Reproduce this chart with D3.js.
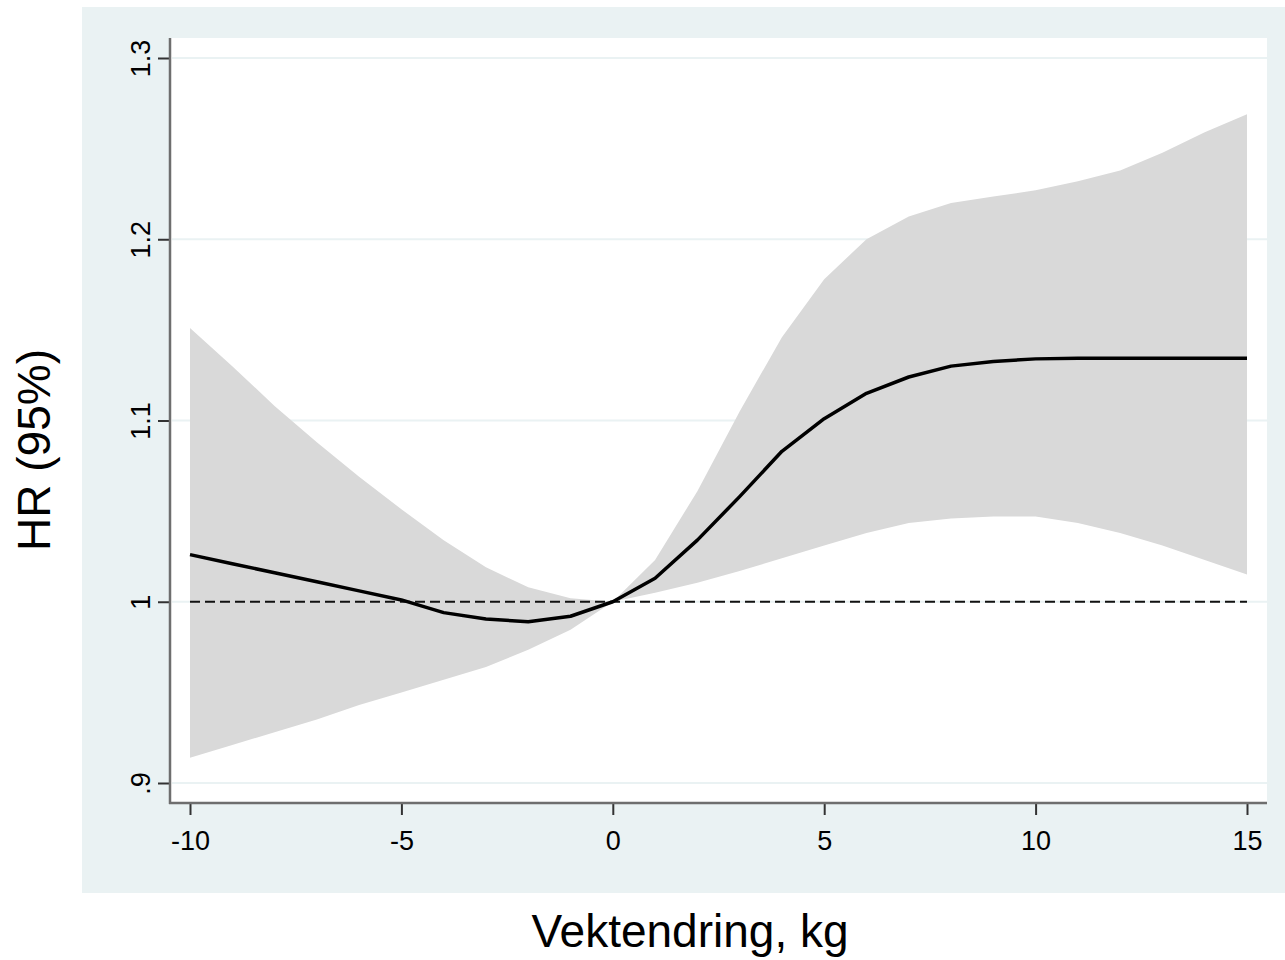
<!DOCTYPE html>
<html>
<head>
<meta charset="utf-8">
<script src="https://cdn.jsdelivr.net/npm/d3@7"></script>
<style>
  body { margin: 0; background: #fff; }
  text { font-family: "Liberation Sans", Arial, sans-serif; fill: #000; }
</style>
</head>
<body>
<div id="chart"></div>
<script>
var svgW = 1285;
var svgH = 960;

// weight change (kg)
var kg = [-10, -9, -8, -7, -6, -5, -4, -3, -2, -1, 0, 1, 2, 3, 4, 5, 6, 7, 8, 9, 10, 11, 12, 13, 14, 15];
// hazard ratio estimate
var hr = [1.026, 1.021, 1.016, 1.011, 1.006, 1.001, 0.994, 0.9905, 0.989, 0.992, 1.0,
          1.013, 1.034, 1.058, 1.083, 1.101, 1.115, 1.124, 1.130, 1.1326, 1.134,
          1.1344, 1.1344, 1.1344, 1.1344, 1.1344];
// 95% CI
var upper = [1.151, 1.130, 1.108, 1.088, 1.069, 1.051, 1.034, 1.019, 1.008, 1.002, 1.0,
             1.023, 1.061, 1.105, 1.146, 1.178, 1.200, 1.2126, 1.220, 1.2236, 1.227,
             1.232, 1.238, 1.2477, 1.259, 1.269];
var lower = [0.914, 0.921, 0.928, 0.935, 0.943, 0.950, 0.957, 0.964, 0.9735, 0.9845, 1.0,
             1.005, 1.0105, 1.017, 1.024, 1.031, 1.038, 1.0435, 1.046, 1.047, 1.047,
             1.0435, 1.038, 1.031, 1.023, 1.015];

var xTicks = [-10, -5, 0, 5, 10, 15];
var xTickLabels = ["-10", "-5", "0", "5", "10", "15"];
var yTicks = [0.9, 1.0, 1.1, 1.2, 1.3];
var yTickLabels = [".9", "1", "1.1", "1.2", "1.3"];

var refLine = 1;

var data = kg.map((k, i) => ({kg: k, hr: hr[i], lo: lower[i], hi: upper[i]}));

var svg = d3.select("#chart")
            .append("svg")
            .attr("width", svgW)
            .attr("height", svgH);

// plot region box
var plot = {left: 170, right: 1267, top: 38, bottom: 803};

var xScale = d3.scaleLinear().domain([-10, 15]).range([190, 1247]);
var yScale = d3.scaleLinear().domain([0.9, 1.3]).range([783, 58]);

// outer graph region
svg.append("rect")
   .attr("x", 82).attr("y", 7)
   .attr("width", svgW - 82).attr("height", 886)
   .attr("fill", "#eaf2f3");

svg.append("rect")
   .attr("x", plot.left).attr("y", plot.top)
   .attr("width", plot.right - plot.left).attr("height", plot.bottom - plot.top)
   .attr("fill", "#fff");

// gridlines
svg.append("g").selectAll("line")
   .data(yTicks)
   .enter()
   .append("line")
   .attr("x1", plot.left + 2).attr("x2", plot.right)
   .attr("y1", d => yScale(d)).attr("y2", d => yScale(d))
   .attr("stroke", "#eaf2f3")
   .attr("stroke-width", 2);

// CI band
var area = d3.area()
             .x(d => xScale(d.kg))
             .y0(d => yScale(d.lo))
             .y1(d => yScale(d.hi));

svg.append("path")
   .datum(data)
   .attr("d", area)
   .attr("fill", "#d9d9d9");

// reference line at HR = 1
svg.append("line")
   .attr("x1", xScale(-10)).attr("x2", xScale(15))
   .attr("y1", yScale(refLine)).attr("y2", yScale(refLine))
   .attr("stroke", "#111")
   .attr("stroke-width", 2)
   .attr("stroke-dasharray", "10,5");

// estimate
var line = d3.line()
             .x(d => xScale(d.kg))
             .y(d => yScale(d.hr));

svg.append("path")
   .datum(data)
   .attr("d", line)
   .attr("fill", "none")
   .attr("stroke", "#000")
   .attr("stroke-width", 3.5)
   .attr("stroke-linejoin", "round");

// axes
var leftAxis = d3.axisLeft(yScale)
                 .tickValues(yTicks)
                 .tickSize(12)
                 .tickFormat((d, i) => yTickLabels[i]);

var yAxisG = svg.append("g")
                .attr("transform", `translate(${plot.left}, 0)`)
                .call(leftAxis);
yAxisG.select(".domain").remove();
yAxisG.selectAll(".tick line").attr("stroke", "#333").attr("stroke-width", 2);
yAxisG.selectAll(".tick text")
      .attr("x", null).attr("dy", null)
      .attr("text-anchor", "middle")
      .attr("transform", "translate(-20, 0) rotate(-90)")
      .style("font-size", "27px")
      .style("font-family", "'Liberation Sans', Arial, sans-serif");

var bottomAxis = d3.axisBottom(xScale)
                   .tickValues(xTicks)
                   .tickSize(12)
                   .tickFormat((d, i) => xTickLabels[i]);

var xAxisG = svg.append("g")
                .attr("transform", `translate(0, ${plot.bottom})`)
                .call(bottomAxis);
xAxisG.select(".domain").remove();
xAxisG.selectAll(".tick line").attr("stroke", "#333").attr("stroke-width", 2);
xAxisG.selectAll(".tick text")
      .attr("y", 47).attr("dy", null)
      .style("font-size", "27px")
      .style("font-family", "'Liberation Sans', Arial, sans-serif");

// axis lines
svg.append("line")
   .attr("x1", plot.left).attr("x2", plot.left)
   .attr("y1", plot.top).attr("y2", plot.bottom + 1)
   .attr("stroke", "#6e6e6e").attr("stroke-width", 2.5);
svg.append("line")
   .attr("x1", plot.left - 1).attr("x2", plot.right)
   .attr("y1", plot.bottom).attr("y2", plot.bottom)
   .attr("stroke", "#6e6e6e").attr("stroke-width", 2.5);

// axis titles
svg.append("text")
   .attr("x", 690).attr("y", 947)
   .attr("text-anchor", "middle")
   .style("font-size", "46px")
   .text("Vektendring, kg");

svg.append("text")
   .attr("transform", "translate(50, 450) rotate(-90)")
   .attr("text-anchor", "middle")
   .style("font-size", "46px")
   .text("HR (95%)");
</script>
</body>
</html>
